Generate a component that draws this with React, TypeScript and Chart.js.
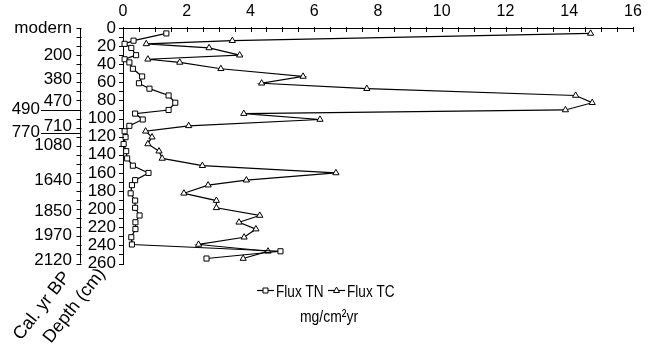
import React, { useEffect, useRef } from "react";
import { Chart, registerables } from "chart.js";

Chart.register(...registerables);

const depths = [6, 14, 17.5, 22, 30, 34.5, 38, 45, 53.5, 61, 67, 74.5, 82.5, 90.5, 94.5, 101, 108, 114, 120.5, 128, 136, 144, 152, 160, 168, 173.5, 182.5, 190.5, 198.5, 207, 214.5, 222, 231, 239, 246.5, 254.5];
const fluxTN = [1.36, 0.33, 0.05, 0.26, 0.41, 0.05, 0.2, 0.31, 0.6, 0.5, 0.83, 1.43, 1.64, 1.43, 0.38, 0.62, 0.2, 0.05, 0.08, 0.02, 0.1, 0.13, 0.31, 0.8, 0.38, 0.28, 0.24, 0.38, 0.38, 0.52, 0.39, 0.39, 0.26, 0.28, 4.94, 2.62];
const fluxTC = [14.67, 3.43, 0.73, 2.7, 3.66, 0.78, 1.78, 3.07, 5.65, 4.35, 7.65, 14.2, 14.72, 13.88, 3.79, 6.18, 2.06, 0.71, 0.91, 0.78, 1.13, 1.23, 2.49, 6.68, 3.87, 2.67, 1.91, 2.93, 2.93, 4.29, 3.64, 4.17, 3.8, 2.37, 4.55, 3.77];

const calLabels = ["modern", "200", "380", "470", "490", "710", "770", "1080", "1640", "1850", "1970", "2120"];
const calDepths = [0, 30, 57, 81, 89.5, 109, 115, 130, 168, 202, 229, 256];
const calColumn = [0, 0, 0, 0, 1, 0, 1, 0, 0, 0, 0, 0];
const calMarkDepths = [90.5, 116];

const seriesNames = ["Flux TN", "Flux TC"];
const unitLabel = "mg/cm²yr";
const depthTitle = "Depth (cm)";
const calTitle = "Cal. yr BP";

const FONT = "'Liberation Sans', Arial, sans-serif";

const decorPlugin = {
  id: "decor",
  afterDraw(chart: any) {
    const { ctx, chartArea, scales } = chart;
    const x = scales.x;
    const y = scales.y;
    ctx.save();
    ctx.strokeStyle = "#000";
    ctx.fillStyle = "#000";
    ctx.lineWidth = 1;
    // x ticks (inside)
    for (let v = 0; v <= 16.001; v += 0.5) {
      const px = Math.round(x.getPixelForValue(v)) + 0.5;
      ctx.beginPath();
      ctx.moveTo(px, chartArea.top - 1);
      ctx.lineTo(px, chartArea.top + 4);
      ctx.stroke();
    }
    // y ticks
    for (let d = 0; d <= 260; d += 10) {
      const py = Math.round(y.getPixelForValue(d)) + 0.5;
      ctx.beginPath();
      ctx.moveTo(chartArea.left - 4, py);
      ctx.lineTo(chartArea.left + 1, py);
      ctx.stroke();
    }
    // cal axis
    const cx = 80.5;
    ctx.beginPath();
    ctx.moveTo(cx, y.getPixelForValue(0));
    ctx.lineTo(cx, y.getPixelForValue(260));
    ctx.stroke();
    for (let d = 0; d <= 260; d += 10) {
      const py = Math.round(y.getPixelForValue(d)) + 0.5;
      ctx.beginPath();
      ctx.moveTo(cx - 4, py);
      ctx.lineTo(cx + 1, py);
      ctx.stroke();
    }
    for (const d of calMarkDepths) {
      const py = Math.round(y.getPixelForValue(d)) + 0.5;
      ctx.beginPath();
      ctx.moveTo(41, py);
      ctx.lineTo(cx, py);
      ctx.stroke();
    }
    ctx.font = `17px ${FONT}`;
    ctx.textAlign = "right";
    ctx.textBaseline = "middle";
    calLabels.forEach((lab, i) => {
      const py = y.getPixelForValue(calDepths[i]);
      const rx = calColumn[i] ? 40 : 72;
      ctx.fillText(lab, rx, py);
    });
    // rotated titles
    ctx.textAlign = "left";
    ctx.textBaseline = "alphabetic";
    ctx.font = `18px ${FONT}`;
    const ang = (-52 * Math.PI) / 180;
    ctx.save();
    ctx.translate(21, 341);
    ctx.rotate(ang);
    ctx.fillText(calTitle, 0, 0);
    ctx.restore();
    ctx.save();
    ctx.translate(51, 344);
    ctx.rotate(ang);
    ctx.fillText(depthTitle, 0, 0);
    ctx.restore();
    // legend
    const ly = 290.5;
    const items = [
      { x0: 257, style: "rect" },
      { x0: 328, style: "triangle" },
    ];
    items.forEach((it, i) => {
      ctx.lineWidth = 1.2;
      ctx.beginPath();
      ctx.moveTo(it.x0, ly);
      ctx.lineTo(it.x0 + 17, ly);
      ctx.stroke();
      const mx = it.x0 + 8.5;
      ctx.lineWidth = 1;
      ctx.fillStyle = "#fff";
      ctx.beginPath();
      if (it.style === "rect") {
        ctx.rect(mx - 2.5, ly - 2.5, 5, 5);
      } else {
        ctx.moveTo(mx, ly - 3.5);
        ctx.lineTo(mx + 3, ly + 2);
        ctx.lineTo(mx - 3, ly + 2);
        ctx.closePath();
      }
      ctx.fill();
      ctx.stroke();
      ctx.fillStyle = "#000";
      ctx.font = `17px ${FONT}`;
      ctx.save();
      ctx.translate(it.x0 + 19, 296.5);
      ctx.scale(0.8, 1);
      ctx.fillText(chart.data.datasets[i].label, 0, 0);
      ctx.restore();
    });
    ctx.save();
    ctx.font = `17px ${FONT}`;
    ctx.translate(300, 322);
    ctx.scale(0.82, 1);
    ctx.fillText(unitLabel, 0, 0);
    ctx.restore();
    ctx.restore();
  },
};

export default function App() {
  const ref = useRef<HTMLCanvasElement | null>(null);
  useEffect(() => {
    document.body.style.margin = "0";
    const canvas = ref.current!;
    const mk = (vals: number[]) => vals.map((v, i) => ({ x: v, y: depths[i] }));
    const chart = new Chart(canvas, {
      type: "scatter",
      data: {
        datasets: [
          {
            label: seriesNames[0],
            data: mk(fluxTN),
            showLine: true,
            borderColor: "#000",
            borderWidth: 1.2,
            pointStyle: "rect",
            pointRadius: 3.6,
            pointBorderWidth: 1,
            pointBackgroundColor: "#fff",
            pointBorderColor: "#000",
          },
          {
            label: seriesNames[1],
            data: mk(fluxTC),
            showLine: true,
            borderColor: "#000",
            borderWidth: 1.2,
            pointStyle: "triangle",
            pointRadius: 3.6,
            pointBorderWidth: 1,
            pointBackgroundColor: "#fff",
            pointBorderColor: "#000",
          },
        ],
      },
      options: {
        responsive: false,
        animation: false,
        clip: false as any,
        layout: { padding: { left: 83, right: 23, top: 0, bottom: 87.5 } },
        plugins: { legend: { display: false }, tooltip: { enabled: false } },
        scales: {
          x: {
            type: "linear",
            position: "top",
            min: 0,
            max: 16,
            afterFit: (s: any) => { s.height = 28; },
            ticks: { stepSize: 2, autoSkip: false, maxRotation: 0, color: "#000", padding: 7, font: { size: 16, family: FONT } },
            grid: { drawOnChartArea: false, drawTicks: false },
            border: { display: true, color: "#000", width: 1 },
          },
          y: {
            type: "linear",
            position: "left",
            reverse: true,
            min: 0,
            max: 260,
            afterFit: (s: any) => { s.width = 40; },
            ticks: { stepSize: 20, autoSkip: false, color: "#000", padding: 7, font: { size: 17, family: FONT } },
            grid: { drawOnChartArea: false, drawTicks: false },
            border: { display: true, color: "#000", width: 1 },
          },
        },
      },
      plugins: [decorPlugin],
    });
    return () => chart.destroy();
  }, []);
  return (
    <div style={{ width: 656, height: 351, background: "#fff" }}>
      <canvas ref={ref} width={656} height={351} />
    </div>
  );
}
